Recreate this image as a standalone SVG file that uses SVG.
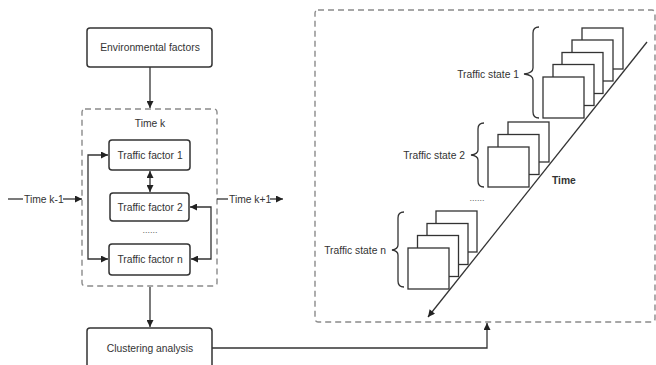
<svg xmlns="http://www.w3.org/2000/svg" width="656" height="365" viewBox="0 0 656 365">
<style>
.box{fill:#fff;stroke:#333;stroke-width:1.5}
.dash{fill:none;stroke:#8a8a8a;stroke-width:1.4;stroke-dasharray:6 4}
.ln{fill:none;stroke:#333;stroke-width:1.3}
.sq{fill:#fff;stroke:#333;stroke-width:1.3}
.t{font-family:"Liberation Sans",Arial,sans-serif;font-size:10.3px;fill:#333}
.c{text-anchor:middle}
.e{text-anchor:end}
.b{font-weight:bold}
.dots{font-family:"Liberation Sans",Arial,sans-serif;font-size:9px;fill:#666;text-anchor:middle}
</style>
<defs>
<marker id="arr" viewBox="0 0 10 10" refX="10" refY="5" markerWidth="9" markerHeight="7" orient="auto-start-reverse" markerUnits="userSpaceOnUse">
<path d="M0,0 L10,5 L0,10 z" fill="#222"/>
</marker>
</defs>
<rect width="656" height="365" fill="#fff"/>

<g id="env">
<rect class="box" x="87" y="28" width="125" height="39" rx="3"/>
<text class="t c" x="150" y="51">Environmental factors</text>
</g>

<g id="timek">
<rect class="dash" x="82" y="109" width="135" height="177" rx="3"/>
<text class="t c" x="150" y="127">Time k</text>
</g>

<g id="tf1">
<rect class="box" x="109" y="140" width="81" height="30" rx="3"/>
<text class="t c" x="150" y="159">Traffic factor 1</text>
</g>
<g id="tf2">
<rect class="box" x="110" y="193" width="79" height="28" rx="3"/>
<text class="t c" x="150" y="211">Traffic factor 2</text>
</g>
<text class="dots" x="150" y="233">......</text>
<g id="tfn">
<rect class="box" x="109" y="244" width="81" height="31" rx="3"/>
<text class="t c" x="150" y="263">Traffic factor n</text>
</g>

<g id="cluster">
<rect class="box" x="87" y="328" width="125" height="50" rx="3"/>
<text class="t c" x="150" y="352">Clustering analysis</text>
</g>

<g id="states">
<rect class="dash" x="315" y="10" width="340" height="312" rx="3"/>
<!-- state 1 -->
<rect class="sq" x="582" y="28" width="41" height="41"/>
<rect class="sq" x="572" y="40" width="41" height="41"/>
<rect class="sq" x="562" y="52.5" width="41" height="41"/>
<rect class="sq" x="553" y="64.5" width="41" height="41"/>
<rect class="sq" x="543" y="77" width="41" height="41"/>
<path class="ln" d="M539,27 Q533,27 533,33 L533,68 Q533,73 524,74 Q533,75 533,80 L533,112 Q533,118 539,118"/>
<text class="t e" x="519" y="78">Traffic state 1</text>
<!-- state 2 -->
<rect class="sq" x="508" y="122" width="41" height="40"/>
<rect class="sq" x="498" y="134.5" width="41" height="40"/>
<rect class="sq" x="488" y="147" width="41" height="40"/>
<path class="ln" d="M484,123 Q478,123 478,129 L478,150 Q478,154 471,155 Q478,156 478,160 L478,181 Q478,187 484,187"/>
<text class="t e" x="465" y="159">Traffic state 2</text>
<text class="dots" x="477" y="201">......</text>
<!-- state n -->
<rect class="sq" x="436" y="211" width="41" height="41"/>
<rect class="sq" x="427" y="223.5" width="41" height="41"/>
<rect class="sq" x="417.5" y="235.5" width="41" height="41"/>
<rect class="sq" x="408" y="248" width="41" height="41"/>
<path class="ln" d="M404,212 Q398,212 398,218 L398,245 Q398,249 392,250 Q398,251 398,255 L398,281 Q398,287 404,287"/>
<text class="t e" x="386" y="254">Traffic state n</text>
<!-- time axis -->
<line class="ln" x1="647" y1="42" x2="428" y2="317" marker-end="url(#arr)"/>
<text class="t b" x="552" y="184">Time</text>
</g>

<g id="connectors">
<line class="ln" x1="150" y1="67" x2="150" y2="108" marker-end="url(#arr)"/>
<line class="ln" x1="150" y1="171" x2="150" y2="192" marker-start="url(#arr)" marker-end="url(#arr)"/>
<path class="ln" d="M108,155 L88,155 L88,259 L108,259" marker-start="url(#arr)" marker-end="url(#arr)"/>
<path class="ln" d="M190,207 L211,207 L211,259 L191,259" marker-start="url(#arr)" marker-end="url(#arr)"/>
<line class="ln" x1="150" y1="287" x2="150" y2="327" marker-end="url(#arr)"/>
<path class="ln" d="M212,348 L487,348 L487,323" marker-end="url(#arr)"/>
<line class="ln" x1="8" y1="199" x2="23" y2="199"/>
<text class="t" x="24" y="203">Time k-1</text>
<line class="ln" x1="63" y1="199" x2="82" y2="199" marker-end="url(#arr)"/>
<line class="ln" x1="217" y1="199" x2="228" y2="199"/>
<text class="t" x="229" y="203">Time k+1</text>
<line class="ln" x1="270" y1="199" x2="283" y2="199" marker-end="url(#arr)"/>
</g>
</svg>
